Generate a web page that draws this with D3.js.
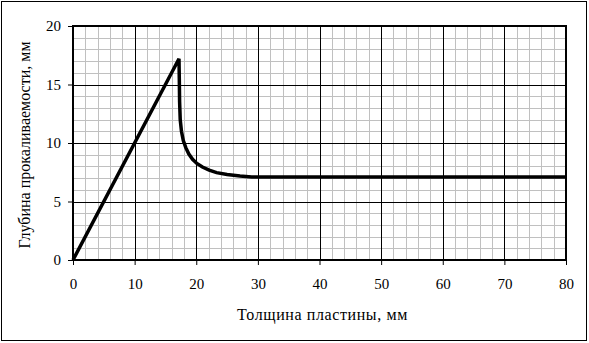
<!DOCTYPE html>
<meta charset="utf-8">
<title>Глубина прокаливаемости</title>
<script src="https://d3js.org/d3.v7.min.js"></script>
<style>
  body { margin: 0; background: #fff; }
  text { font-family: "Liberation Serif", "Times New Roman", serif; }
</style>
<div id="chart"></div>
<script>
// data
var thickness = [0, 17.2, 17.25, 17.3, 17.4, 17.6, 17.9, 18.3, 18.8, 19.4, 20.1, 21.0, 22.1, 23.3, 25.0, 27.1, 29, 35, 50, 65, 80];
var depth     = [0, 17.2, 15.5, 13.5, 12.0, 11.0, 10.2, 9.6, 9.05, 8.6, 8.25, 7.95, 7.68, 7.47, 7.3, 7.18, 7.1, 7.1, 7.1, 7.1, 7.1];
var xTicks = [0, 10, 20, 30, 40, 50, 60, 70, 80];
var yTicks = [0, 5, 10, 15, 20];
var xLabel = "Толщина пластины, мм";
var yLabel = "Глубина прокаливаемости, мм";

var W = 589, H = 343;
var margin = {top: 26, right: 23, bottom: 83, left: 73},
  width = W - margin.left - margin.right,
  height = H - margin.top - margin.bottom;

var svg = d3.select("#chart").append("svg")
  .attr("width", W)
  .attr("height", H);

// outer frame
svg.append("rect")
  .attr("x", 1.5).attr("y", 1.5)
  .attr("width", W - 4).attr("height", H - 4)
  .attr("fill", "none").attr("stroke", "#000").attr("stroke-width", 1);

var g = svg.append("g")
  .attr("transform", "translate(" + margin.left + "," + margin.top + ")");

var x = d3.scaleLinear().domain([0, 80]).range([0, width]);
var y = d3.scaleLinear().domain([0, 20]).range([height, 0]);

// minor grid
g.selectAll(".vminor").data(d3.range(0, 81, 2)).enter().append("line")
  .attr("x1", d => Math.round(x(d)) + 0.5).attr("x2", d => Math.round(x(d)) + 0.5)
  .attr("y1", 0).attr("y2", height)
  .attr("stroke", "#c0c0c0").attr("stroke-width", 1);
g.selectAll(".hminor").data(d3.range(0, 21, 1)).enter().append("line")
  .attr("y1", d => Math.round(y(d)) + 0.5).attr("y2", d => Math.round(y(d)) + 0.5)
  .attr("x1", 0).attr("x2", width)
  .attr("stroke", "#c0c0c0").attr("stroke-width", 1);

// major grid
g.selectAll(".vmajor").data(xTicks).enter().append("line")
  .attr("x1", d => Math.round(x(d)) + 0.5).attr("x2", d => Math.round(x(d)) + 0.5)
  .attr("y1", 0).attr("y2", height)
  .attr("stroke", "#000").attr("stroke-width", 1);
g.selectAll(".hmajor").data(yTicks).enter().append("line")
  .attr("y1", d => Math.round(y(d)) + 0.5).attr("y2", d => Math.round(y(d)) + 0.5)
  .attr("x1", 0).attr("x2", width)
  .attr("stroke", "#000").attr("stroke-width", 1);

// plot border
g.append("rect")
  .attr("x", 0).attr("y", 0).attr("width", width).attr("height", height)
  .attr("fill", "none").attr("stroke", "#000").attr("stroke-width", 2);

// axes
var xAxis = g.append("g")
  .attr("transform", "translate(0," + height + ")")
  .call(d3.axisBottom(x).tickValues(xTicks).tickSize(5).tickPadding(13));
var yAxis = g.append("g")
  .call(d3.axisLeft(y).tickValues(yTicks).tickSize(5).tickPadding(7));
[xAxis, yAxis].forEach(function(a) {
  a.attr("font-family", null);
  a.select(".domain").remove();
  a.selectAll("line").attr("stroke", "#000");
  a.selectAll("text").style("font-family", "Liberation Serif").style("font-size", "15px").attr("fill", "#000");
});

// curve
var line = d3.line()
  .x((d, i) => x(thickness[i]))
  .y((d, i) => y(depth[i]));
g.append("path")
  .datum(depth)
  .attr("d", line)
  .attr("fill", "none")
  .attr("stroke", "#000")
  .attr("stroke-width", 3.5)
  .attr("stroke-linejoin", "miter");

// titles
svg.append("text")
  .attr("x", margin.left + width / 2 + 3)
  .attr("y", 320)
  .attr("text-anchor", "middle")
  .style("font-size", "16px")
  .style("letter-spacing", "0.6px")
  .text(xLabel);
svg.append("text")
  .attr("transform", "translate(30," + (margin.top + height / 2 + 2) + ") rotate(-90)")
  .attr("text-anchor", "middle")
  .style("font-size", "16px")
  .text(yLabel);
</script>
